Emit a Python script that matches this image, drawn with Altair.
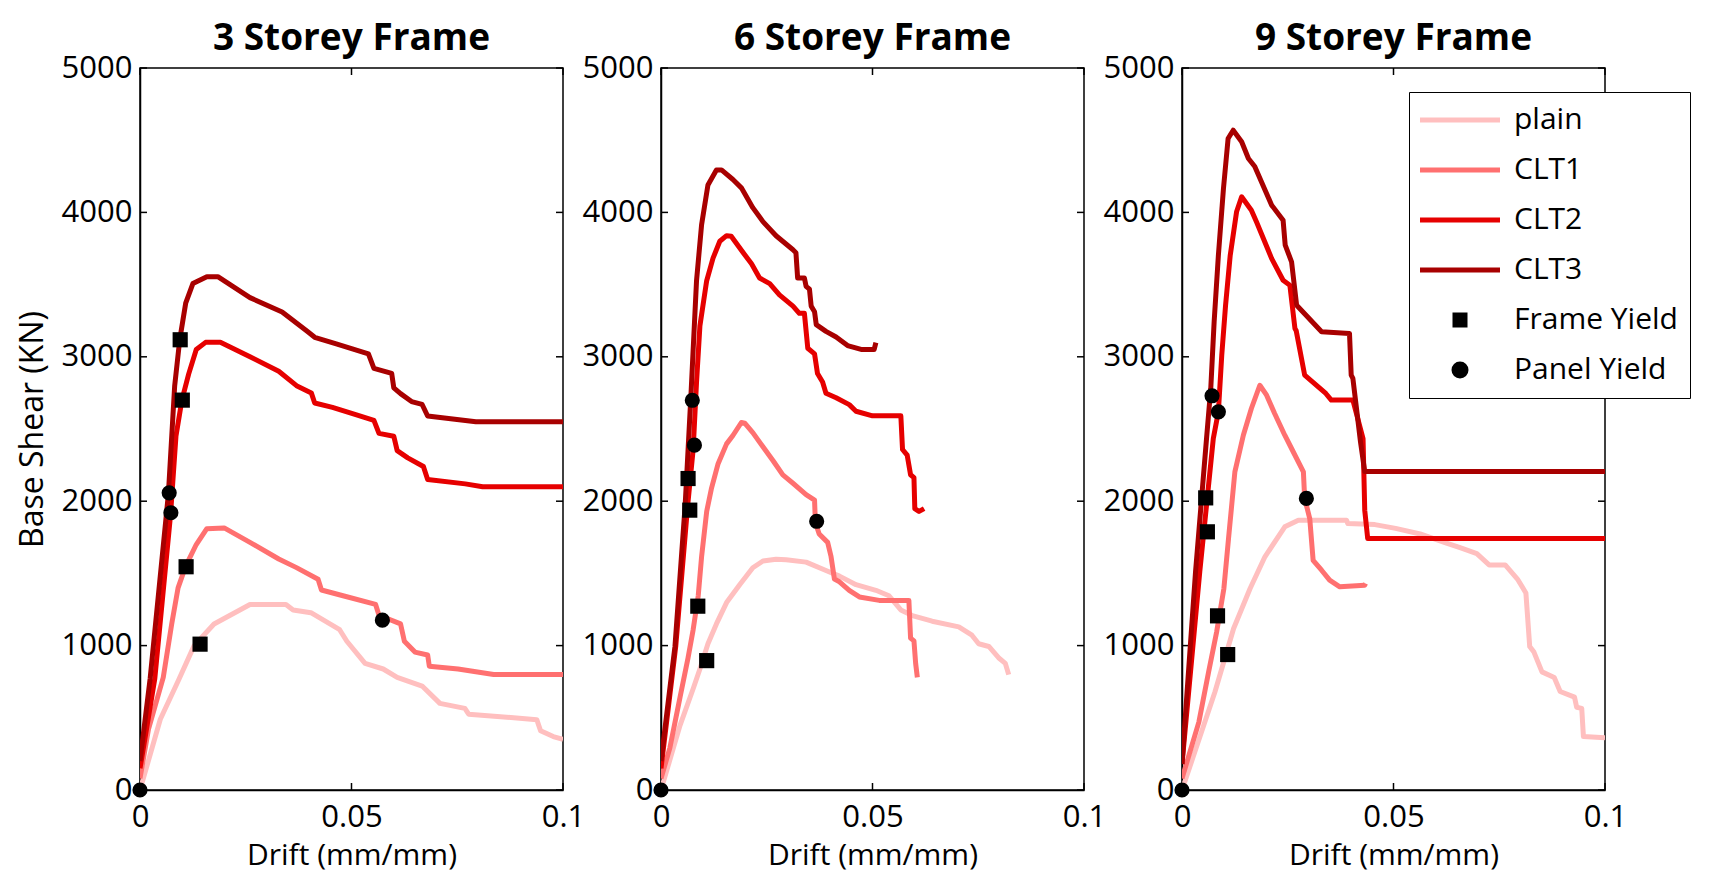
import altair as alt
import pandas as pd

TITLES = ["3 Storey Frame", "6 Storey Frame", "9 Storey Frame"]
SERIES = ["plain", "CLT1", "CLT2", "CLT3"]
MARKER_KINDS = ["Frame Yield", "Panel Yield"]
SERIES_COLORS = ["#ffbfbf", "#ff7070", "#e60000", "#a80000"]
MARKER_COLORS = ["#000000", "#000000"]
MARKER_SHAPES = ["square", "circle"]
X_TICKS = [0, 0.05, 0.1]
Y_TICKS = [0, 1000, 2000, 3000, 4000, 5000]
X_TITLE = "Drift (mm/mm)"
Y_TITLE = "Base Shear (KN)"

# ---------------- 3 storey frame ----------------
S3_PLAIN_X = [0, 0.0048, 0.0091, 0.0128, 0.0175, 0.026, 0.0345, 0.0362, 0.0404, 0.0472, 0.0489, 0.0532,
              0.0575, 0.0608, 0.0667, 0.0709, 0.0768, 0.0777, 0.0938, 0.0947, 0.0977, 0.1]
S3_PLAIN_Y = [0, 490, 760, 1000, 1150, 1285, 1285, 1247, 1228, 1110, 1030, 877,
              838, 780, 720, 600, 565, 525, 487, 410, 370, 350]
S3_CLT1_X = [0, 0.002, 0.0055, 0.0075, 0.009, 0.0108, 0.0133, 0.0158, 0.0199, 0.026, 0.0328, 0.037, 0.0421,
             0.0429, 0.048, 0.0557, 0.0565, 0.0616, 0.0625, 0.065, 0.068, 0.0684, 0.0752, 0.0836, 0.1]
S3_CLT1_Y = [80, 420, 780, 1150, 1400, 1550, 1700, 1810, 1815, 1715, 1600, 1540, 1460,
             1385, 1345, 1285, 1210, 1150, 1030, 955, 935, 857, 838, 800, 800]
S3_CLT2_X = [0, 0.0035, 0.0072, 0.0085, 0.0099, 0.0115, 0.0133, 0.0155, 0.019, 0.026, 0.0328, 0.037, 0.0405,
             0.0413, 0.0455, 0.051, 0.0553, 0.0565, 0.06, 0.0608, 0.0633, 0.067, 0.068, 0.0769, 0.081, 0.1]
S3_CLT2_Y = [150, 772, 1900, 2450, 2700, 2880, 3050, 3100, 3100, 3000, 2900, 2800, 2750,
             2680, 2650, 2600, 2560, 2470, 2450, 2350, 2300, 2240, 2150, 2120, 2100, 2100]
S3_CLT3_X = [0, 0.0024, 0.0067, 0.0082, 0.0094, 0.0108, 0.0125, 0.0158, 0.0184, 0.026, 0.0336, 0.0396,
             0.0413, 0.0464, 0.054, 0.0553, 0.0595, 0.06, 0.0616, 0.0642, 0.0667, 0.068, 0.0794, 0.1]
S3_CLT3_Y = [200, 772, 2046, 2800, 3120, 3371, 3507, 3555, 3555, 3410, 3310, 3175,
             3135, 3090, 3020, 2920, 2885, 2785, 2745, 2690, 2670, 2590, 2550, 2550]
S3_FRAME_X = [0.0095, 0.01, 0.0109, 0.0142]
S3_FRAME_Y = [3118, 2700, 1546, 1010]
S3_PANEL_X = [0, 0.0069, 0.0073, 0.0573]
S3_PANEL_Y = [0, 2058, 1920, 1176]

# ---------------- 6 storey frame ----------------
S6_PLAIN_X = [0, 0.0045, 0.0076, 0.0092, 0.0111, 0.0131, 0.0155, 0.0186, 0.0217, 0.0241, 0.0272, 0.0296,
              0.0343, 0.039, 0.0422, 0.0461, 0.0508, 0.0539, 0.0567, 0.0594, 0.0641, 0.0704, 0.0735,
              0.0751, 0.0775, 0.0798, 0.0814, 0.0822]
S6_PLAIN_Y = [0, 448, 701, 838, 1013, 1150, 1298, 1422, 1539, 1586, 1598, 1594,
              1578, 1520, 1481, 1422, 1383, 1345, 1247, 1208, 1169, 1130, 1072,
              1013, 994, 916, 877, 799]
S6_CLT1_X = [0, 0.0021, 0.0045, 0.0064, 0.0076, 0.0088, 0.0096, 0.0108, 0.0119, 0.0135, 0.0155, 0.017,
             0.019, 0.0198, 0.0217, 0.0241, 0.0265, 0.0288, 0.0312, 0.0343, 0.0363, 0.0365, 0.0374,
             0.0394, 0.0402, 0.041, 0.0422, 0.0445, 0.0469, 0.0516, 0.0586, 0.059, 0.0598, 0.0602, 0.0606]
S6_CLT1_Y = [80, 292, 643, 916, 1110, 1345, 1617, 1929, 2085, 2260, 2397, 2455,
             2545, 2540, 2475, 2377, 2280, 2182, 2124, 2046, 2007, 1851, 1773,
             1715, 1617, 1461, 1442, 1383, 1337, 1313, 1313, 1052, 1033, 877, 780]
S6_CLT2_X = [0, 0.0035, 0.0063, 0.0076, 0.0084, 0.0092, 0.0108, 0.0123, 0.0139, 0.0155, 0.0166, 0.0194,
             0.0214, 0.0233, 0.0257, 0.028, 0.0312, 0.0327, 0.0339, 0.0347, 0.0363, 0.037, 0.0382, 0.039,
             0.0414, 0.0445, 0.0461, 0.05, 0.0567, 0.0571, 0.0582, 0.059, 0.0598, 0.06, 0.061, 0.0622]
S6_CLT2_Y = [150, 1000, 1968, 2358, 2825, 3215, 3527, 3683, 3800, 3839, 3835, 3722,
             3644, 3546, 3507, 3429, 3351, 3301, 3301, 3059, 3020, 2884, 2825, 2747,
             2716, 2669, 2623, 2591, 2591, 2358, 2319, 2183, 2163, 1949, 1929, 1949]
S6_CLT3_X = [0, 0.0033, 0.0057, 0.0071, 0.0084, 0.0096, 0.0111, 0.0131, 0.0143, 0.017, 0.019, 0.0217,
             0.0241, 0.0272, 0.0312, 0.0319, 0.0323, 0.0339, 0.0343, 0.0351, 0.0355, 0.0363, 0.0367,
             0.039, 0.0414, 0.0441, 0.0473, 0.0504, 0.0508]
S6_CLT3_Y = [200, 994, 1968, 2747, 3527, 3916, 4190, 4294, 4294, 4228, 4170, 4033,
             3936, 3838, 3741, 3721, 3546, 3546, 3488, 3468, 3351, 3312, 3223,
             3176, 3137, 3078, 3051, 3051, 3098]
S6_FRAME_X = [0.0064, 0.0068, 0.0087, 0.0108]
S6_FRAME_Y = [2157, 1938, 1273, 896]
S6_PANEL_X = [0, 0.0074, 0.0079, 0.0368]
S6_PANEL_Y = [0, 2699, 2388, 1861]

# ---------------- 9 storey frame ----------------
S9_PLAIN_X = [0, 0.0078, 0.0122, 0.0161, 0.0196, 0.0243, 0.0275, 0.0389, 0.0392, 0.0456, 0.0505, 0.0563,
              0.062, 0.0659, 0.0697, 0.0726, 0.0764, 0.0793, 0.0813, 0.0822, 0.0832, 0.0851, 0.088,
              0.0894, 0.0928, 0.0933, 0.0945, 0.0949, 0.1]
S9_PLAIN_Y = [0, 680, 1118, 1395, 1615, 1823, 1868, 1868, 1845, 1838, 1812, 1773,
              1715, 1676, 1637, 1559, 1559, 1461, 1364, 994, 955, 818, 779,
              682, 643, 573, 565, 370, 362]
S9_CLT1_X = [0, 0.004, 0.0063, 0.0082, 0.0099, 0.011, 0.0125, 0.0145, 0.0164, 0.0184, 0.02, 0.0219,
             0.0243, 0.0259, 0.0287, 0.029, 0.0302, 0.031, 0.033, 0.0349, 0.0373, 0.0432, 0.0434]
S9_CLT1_Y = [80, 472, 819, 1096, 1395, 1742, 2203, 2457, 2642, 2803, 2734, 2607,
             2457, 2365, 2203, 2019, 1880, 1591, 1522, 1453, 1407, 1418, 1430]
S9_CLT2_X = [0, 0.0042, 0.0074, 0.0086, 0.0094, 0.0103, 0.0114, 0.0129, 0.0141, 0.0164, 0.0176, 0.0212,
             0.0239, 0.0255, 0.0267, 0.027, 0.029, 0.034, 0.0353, 0.0404, 0.0428, 0.0432, 0.0439, 0.1]
S9_CLT2_Y = [180, 1511, 2434, 2619, 3011, 3357, 3703, 4004, 4108, 4015, 3935, 3680,
             3530, 3496, 3196, 3180, 2873, 2746, 2700, 2700, 2434, 1938, 1742, 1742]
S9_CLT3_X = [0, 0.0032, 0.0058, 0.0068, 0.0076, 0.0086, 0.0098, 0.0109, 0.0121, 0.0141, 0.0157, 0.0172,
             0.0212, 0.0239, 0.0244, 0.0259, 0.0271, 0.033, 0.0396, 0.04, 0.0404, 0.0422, 0.0432, 0.1]
S9_CLT3_Y = [180, 1511, 2434, 2780, 3244, 3703, 4165, 4512, 4569, 4489, 4373, 4318,
             4050, 3946, 3773, 3658, 3357, 3173, 3161, 2873, 2850, 2411, 2205, 2205]
S9_FRAME_X = [0.0056, 0.006, 0.0084, 0.0108]
S9_FRAME_Y = [2023, 1788, 1206, 938]
S9_PANEL_X = [0, 0.0071, 0.0086, 0.0294]
S9_PANEL_Y = [0, 2730, 2619, 2019]

PANELS = [
    {"lines": [(S3_PLAIN_X, S3_PLAIN_Y), (S3_CLT1_X, S3_CLT1_Y), (S3_CLT2_X, S3_CLT2_Y), (S3_CLT3_X, S3_CLT3_Y)],
     "markers": [(S3_FRAME_X, S3_FRAME_Y), (S3_PANEL_X, S3_PANEL_Y)]},
    {"lines": [(S6_PLAIN_X, S6_PLAIN_Y), (S6_CLT1_X, S6_CLT1_Y), (S6_CLT2_X, S6_CLT2_Y), (S6_CLT3_X, S6_CLT3_Y)],
     "markers": [(S6_FRAME_X, S6_FRAME_Y), (S6_PANEL_X, S6_PANEL_Y)]},
    {"lines": [(S9_PLAIN_X, S9_PLAIN_Y), (S9_CLT1_X, S9_CLT1_Y), (S9_CLT2_X, S9_CLT2_Y), (S9_CLT3_X, S9_CLT3_Y)],
     "markers": [(S9_FRAME_X, S9_FRAME_Y), (S9_PANEL_X, S9_PANEL_Y)]},
]

W, H = 423, 722
TICK = 7
FONT = "Open Sans"

# legend symbol paths (unit box is scaled by sqrt(symbolSize)/2)
LINE_PATH = "M-3,0H3"
SQUARE_PATH = "M-0.375,-0.375H0.375V0.375H-0.375Z M-0.1,-0.1H0.1V0.1H-0.1Z"
CIRCLE_PATH = ("M0.45,0C0.45,0.2485,0.2485,0.45,0,0.45C-0.2485,0.45,-0.45,0.2485,-0.45,0"
               "C-0.45,-0.2485,-0.2485,-0.45,0,-0.45C0.2485,-0.45,0.45,-0.2485,0.45,0Z"
               " M-0.1,-0.1H0.1V0.1H-0.1Z")


def chain(keys, results, default):
    expr = f"'{default}'"
    for k, r in reversed(list(zip(keys, results))):
        expr = f"datum.value === '{k}' ? '{r}' : {expr}"
    return expr


LEGEND = alt.Legend(
    title=None, orient="none", legendX=227, legendY=24, direction="vertical",
    padding=12, strokeColor="black", fillColor="white",
    labelFont=FONT, labelFontSize=30, labelColor="black", labelLimit=600,
    labelOffset=38, symbolOffset=23, symbolSize=711, symbolStrokeWidth=5, rowPadding=19,
    symbolOpacity=1,
    symbolType=alt.ExprRef(expr=chain(MARKER_KINDS, [SQUARE_PATH, CIRCLE_PATH], LINE_PATH)),
    symbolFillColor=alt.ExprRef(expr=chain(MARKER_KINDS, MARKER_COLORS, "transparent")),
    symbolStrokeColor=alt.ExprRef(expr=chain(SERIES + MARKER_KINDS, SERIES_COLORS + MARKER_COLORS, "black")),
)


def make_panel(idx, data, legend):
    x_axis = alt.Axis(values=X_TICKS, format="~g", title=X_TITLE, labelFlush=False, labelOverlap=False,
                      ticks=False, tickSize=0, labelPadding=12, titlePadding=8, titleFontSize=30, grid=False)
    y_axis = alt.Axis(values=Y_TICKS, format="d", title=Y_TITLE if idx == 0 else None, labelFlush=False,
                      labelOverlap=False, ticks=False, tickSize=0, labelPadding=8, titlePadding=12, grid=False)
    xenc = alt.X("drift:Q", scale=alt.Scale(domain=[0, 0.1], nice=False, zero=False), axis=x_axis)
    yenc = alt.Y("shear:Q", scale=alt.Scale(domain=[0, 5000], nice=False, zero=False), axis=y_axis)
    color = alt.Color("series:N",
                      scale=alt.Scale(domain=SERIES + MARKER_KINDS, range=SERIES_COLORS + MARKER_COLORS),
                      legend=legend)

    ytick_df = pd.DataFrame({"shear": Y_TICKS})
    xtick_df = pd.DataFrame({"drift": X_TICKS})
    rule = dict(color="black", strokeWidth=1.5)
    ticks = [
        alt.Chart(ytick_df).mark_rule(**rule).encode(y=yenc, x=alt.value(0), x2=alt.value(TICK)),
        alt.Chart(ytick_df).mark_rule(**rule).encode(y=yenc, x=alt.value(W - TICK), x2=alt.value(W)),
        alt.Chart(xtick_df).mark_rule(**rule).encode(x=xenc, y=alt.value(0), y2=alt.value(TICK)),
        alt.Chart(xtick_df).mark_rule(**rule).encode(x=xenc, y=alt.value(H - TICK), y2=alt.value(H)),
    ]

    lines = []
    for name, (xs, ys) in zip(SERIES, data["lines"]):
        df = pd.DataFrame({"drift": xs, "shear": ys, "series": name, "step": list(range(len(xs)))})
        lines.append(
            alt.Chart(df).mark_line(strokeWidth=5, strokeJoin="round", clip=True)
            .encode(x=xenc, y=yenc, order="step:Q", color=color)
        )

    rows = []
    for kind, (xs, ys) in zip(MARKER_KINDS, data["markers"]):
        for x, y in zip(xs, ys):
            rows.append({"drift": x, "shear": y, "series": kind})
    points = alt.Chart(pd.DataFrame(rows)).mark_point(filled=True, size=230, opacity=1).encode(
        x=xenc, y=yenc, color=color,
        shape=alt.Shape("series:N", scale=alt.Scale(domain=MARKER_KINDS, range=MARKER_SHAPES), legend=None),
    )

    return alt.layer(*ticks, *lines, points).properties(
        width=W, height=H,
        title=alt.TitleParams(text=TITLES[idx], font=FONT, fontSize=37, fontWeight="bold", color="black",
                              anchor="middle", frame="group", offset=-35, baseline="alphabetic"),
    )


panels = [make_panel(i, d, LEGEND if i == 2 else None) for i, d in enumerate(PANELS)]

chart = (
    alt.hconcat(*panels, spacing=98, bounds="flush")
    .resolve_scale(color="independent", shape="independent")
    .properties(padding={"left": 7, "top": 11, "right": 0, "bottom": 3}, background="white")
    .configure(font=FONT)
    .configure_axis(labelFont=FONT, titleFont=FONT, labelFontSize=31, titleFontSize=32,
                    titleFontWeight="normal", labelColor="black", titleColor="black",
                    domainColor="black", domainWidth=1.5)
    .configure_view(stroke="black", strokeWidth=1.5)
)

chart.save("out.html", embed_options={"renderer": "svg", "actions": False})
